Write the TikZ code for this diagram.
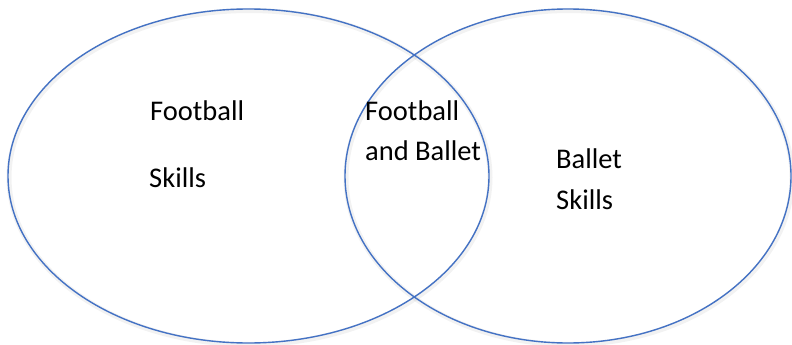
\documentclass[tikz,border=0pt]{standalone}
\usepackage{fontspec}
\setmainfont{Carlito}
\usetikzlibrary{shapes.geometric}
\definecolor{venblue}{HTML}{4472C4}
\begin{document}
\begin{tikzpicture}[x=1pt,y=-1pt,
  setline/.style={draw=venblue,line width=1.4pt},
  setshadow/.style={draw=black,opacity=0.05,line width=5pt},
  lbl/.style={anchor=base west,inner sep=0pt,font=\fontsize{28.5}{34}\selectfont}]
\useasboundingbox (0,0) rectangle (792,345);
\fill[white] (0,0) rectangle (792,345);
% soft shadows
\draw[setshadow] (249.5,177.5) ellipse [x radius=240.5, y radius=167];
\draw[setshadow] (569,177.5) ellipse [x radius=223, y radius=167];
% sets
\node[setline,ellipse,minimum width=481pt,minimum height=334pt,inner sep=0pt] (football) at (248.5,176) {};
\node[setline,ellipse,minimum width=446pt,minimum height=334pt,inner sep=0pt] (ballet) at (568,176) {};
% labels
\node[lbl] (f1) at (150,120) {Football};
\node[lbl] (f2) at (149,187) {Skills};
\node[lbl] (m1) at (365,120) {Football};
\node[lbl] (m2) at (365,160) {and Ballet};
\node[lbl] (b1) at (556,168) {Ballet};
\node[lbl] (b2) at (556,209) {Skills};
\end{tikzpicture}
\end{document}
